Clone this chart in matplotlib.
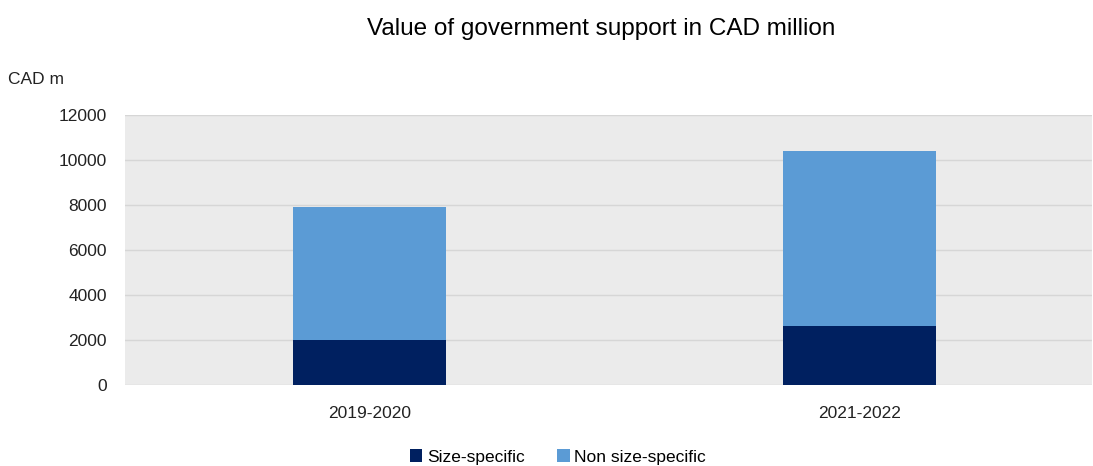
import matplotlib.pyplot as plt
import numpy as np

periods = ["2019-2020", "2021-2022"]
size_specific = [1980, 2620]
non_size_specific = [5930, 7800]

plt.rcParams['font.family'] = ['Liberation Sans', 'DejaVu Sans']

fig = plt.figure(figsize=(10.93, 4.66), dpi=100)
ax = fig.add_axes([125 / 1093, 1 - 385 / 466, 967 / 1093, 270 / 466])
ax.set_facecolor('#EBEBEB')

x = np.arange(len(periods))
w = 0.312
ax.bar(x, size_specific, w, color='#002060', label='Size-specific', zorder=3)
ax.bar(x, non_size_specific, w, bottom=size_specific, color='#5B9BD5',
       label='Non size-specific', zorder=3)

ax.set_xlim(-0.5, 1.475)
ax.set_ylim(0, 12000)
ax.set_yticks(range(0, 12001, 2000))
ax.set_xticks(x)
ax.set_xticklabels(periods)
ax.yaxis.grid(True, color='#D6D6D6', linewidth=1, zorder=0)
ax.tick_params(length=0, labelsize=12.5, colors='#222222')
ax.tick_params(axis='y', pad=13)
ax.tick_params(axis='x', pad=15)
for s in ax.spines.values():
    s.set_visible(False)

fig.text(8 / 1093, 1 - 80 / 466, 'CAD m', fontsize=12.5, color='#222222', va='center')
fig.text(601 / 1093, 1 - 29 / 466, 'Value of government support in CAD million',
         fontsize=17.5, ha='center', va='center')

fig.legend(loc='center', bbox_to_anchor=(558 / 1093, 1 - 457 / 466), ncol=2,
           frameon=False, fontsize=12.5, handlelength=0.7, handleheight=0.7,
           handletextpad=0.25, columnspacing=1.9)

fig.savefig('out.png', dpi=100)
